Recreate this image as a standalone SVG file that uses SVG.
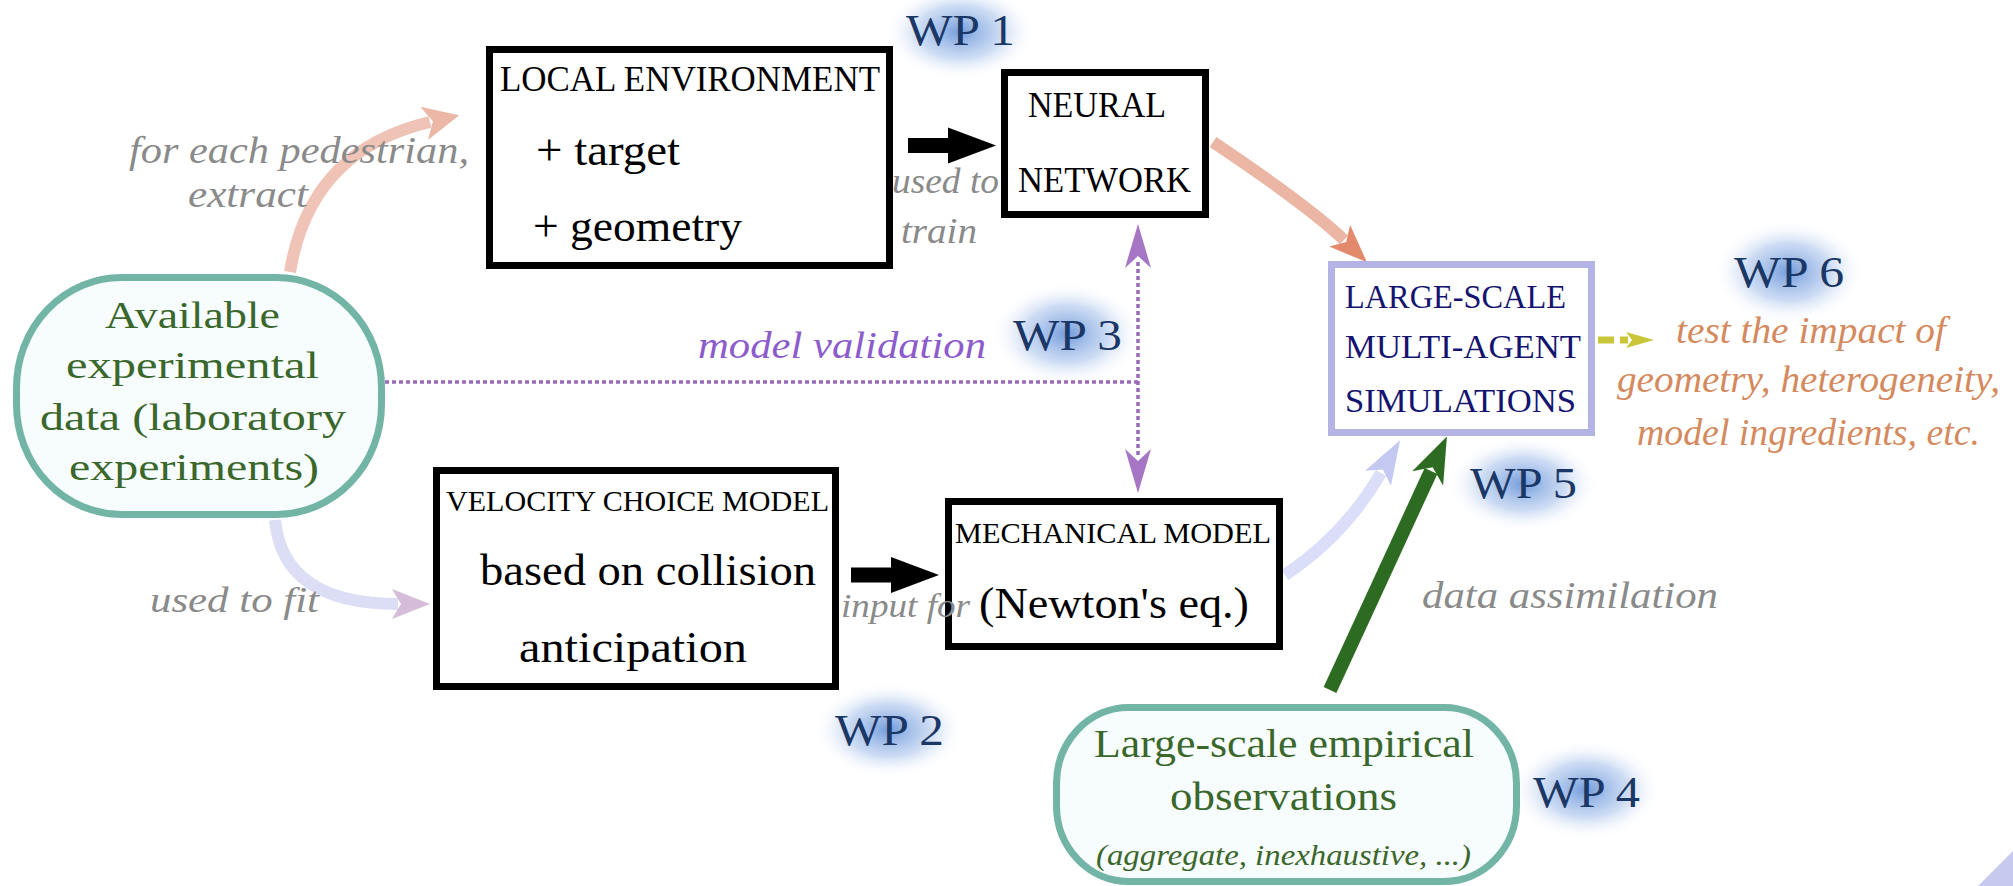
<svg xmlns="http://www.w3.org/2000/svg" width="2013" height="886" viewBox="0 0 2013 886">
  <defs>
    <style>
      text { font-family: "Liberation Serif", "DejaVu Serif", serif; }
      .box { fill: #ffffff; stroke: #000000; stroke-width: 7; }
      .sim { fill: #ffffff; stroke: #b3b3e6; stroke-width: 7; }
      .data { fill: #f7fcfc; stroke: #72b5a7; stroke-width: 7; }
      .blk { fill: #000000; }
      .navy { fill: #141470; }
      .grn { fill: #3a672c; }
      .lbl { fill: #8a8a8a; font-style: italic; }
      .wp { fill: #1b3766; }
      .org { fill: #d48a5e; font-style: italic; }
    </style>
    <radialGradient id="glow">
      <stop offset="0" stop-color="#5a8ad4" stop-opacity="0.85"/>
      <stop offset="0.55" stop-color="#8eb0e6" stop-opacity="0.45"/>
      <stop offset="1" stop-color="#ffffff" stop-opacity="0"/>
    </radialGradient>
    <marker id="hSalmon" markerUnits="userSpaceOnUse" orient="auto" refX="0" refY="0" markerWidth="60" markerHeight="60" overflow="visible">
      <path d="M-6,-15 L32,0 L-6,15 L3,0 Z" fill="#e38a6c"/>
    </marker>
    <marker id="hSalmonLight" markerUnits="userSpaceOnUse" orient="auto" refX="0" refY="0" markerWidth="60" markerHeight="60" overflow="visible">
      <path d="M-6,-17 L30,0 L-6,17 L3,0 Z" fill="#ecb7a6"/>
    </marker>
    <marker id="hLilac" markerUnits="userSpaceOnUse" orient="auto" refX="0" refY="0" markerWidth="60" markerHeight="60" overflow="visible">
      <path d="M-6,-15 L32,0 L-6,15 L3,0 Z" fill="#d5bcd8"/>
    </marker>
    <marker id="hBlue" markerUnits="userSpaceOnUse" orient="auto" refX="0" refY="0" markerWidth="60" markerHeight="60" overflow="visible">
      <path d="M-6,-15 L38,0 L-6,15 L4,0 Z" fill="#c3c9f0"/>
    </marker>
    <marker id="hGreen" markerUnits="userSpaceOnUse" orient="auto" refX="0" refY="0" markerWidth="60" markerHeight="60" overflow="visible">
      <path d="M-8,-17 L38,0 L-8,17 L4,0 Z" fill="#2e6b22"/>
    </marker>
    <marker id="hPurple" markerUnits="userSpaceOnUse" orient="auto-start-reverse" refX="0" refY="0" markerWidth="60" markerHeight="60" overflow="visible">
      <path d="M-6,-13 L38,0 L-6,13 L6,0 Z" fill="#a676c4"/>
    </marker>
    <marker id="hBlack" markerUnits="userSpaceOnUse" orient="auto" refX="0" refY="0" markerWidth="60" markerHeight="60" overflow="visible">
      <path d="M-2,-18 L46,0 L-2,18 Z" fill="#000000"/>
    </marker>
    <marker id="hYellow" markerUnits="userSpaceOnUse" orient="auto" refX="0" refY="0" markerWidth="40" markerHeight="40" overflow="visible">
      <path d="M-2,-8 L26,0 L-2,8 L4,0 Z" fill="#c9c63a"/>
    </marker>
  </defs>

  <rect width="2013" height="886" fill="#ffffff"/>

  <!-- soft highlights behind the work-package labels -->
  <g id="glows">
    <ellipse cx="960" cy="32" rx="76" ry="48" fill="url(#glow)"/>
    <ellipse cx="1067" cy="334" rx="76" ry="52" fill="url(#glow)"/>
    <ellipse cx="889" cy="730" rx="76" ry="48" fill="url(#glow)"/>
    <ellipse cx="1586" cy="790" rx="76" ry="50" fill="url(#glow)"/>
    <ellipse cx="1523" cy="484" rx="76" ry="48" fill="url(#glow)"/>
    <ellipse cx="1789" cy="272" rx="76" ry="52" fill="url(#glow)"/>
  </g>

  <!-- connectors -->
  <g id="connectors" fill="none">
    <path d="M290,272 Q310,150 430,122" stroke="#efc4b6" stroke-width="12" marker-end="url(#hSalmonLight)"/>
    <path d="M1213,142 Q1310,207 1344,240" stroke="#ebb6a4" stroke-width="12" marker-end="url(#hSalmon)"/>
    <path d="M275,520 Q283,604 398,604" stroke="#dcdef5" stroke-width="12" marker-end="url(#hLilac)"/>
    <path d="M1285,575 Q1345,535 1381,473" stroke="#dadef8" stroke-width="12" marker-end="url(#hBlue)"/>
    <path d="M1330,690 L1431,471" stroke="#2e6b22" stroke-width="14" marker-end="url(#hGreen)"/>
    <path d="M908,145.5 L950,145.5" stroke="#000000" stroke-width="15" marker-end="url(#hBlack)"/>
    <path d="M851,575 L893,575" stroke="#000000" stroke-width="15" marker-end="url(#hBlack)"/>
    <path d="M385,382 L1138,382" stroke="#9a6bb8" stroke-width="3.5" stroke-dasharray="4 3"/>
    <path d="M1138,262 L1138,455" stroke="#9a6bb8" stroke-width="3.5" stroke-dasharray="4 3" marker-start="url(#hPurple)" marker-end="url(#hPurple)"/>
    <path d="M1598,340 L1628,340" stroke="#c9c63a" stroke-width="7" stroke-dasharray="16 6" marker-end="url(#hYellow)"/>
  </g>

  <!-- work-package tags -->
  <g id="wp-tags" font-size="44">
    <text class="wp" x="906" y="45" textLength="109" lengthAdjust="spacingAndGlyphs">WP 1</text>
    <text class="wp" x="1013" y="350" textLength="109" lengthAdjust="spacingAndGlyphs">WP 3</text>
    <text class="wp" x="835" y="745" textLength="109" lengthAdjust="spacingAndGlyphs">WP 2</text>
    <text class="wp" x="1533" y="807" textLength="107" lengthAdjust="spacingAndGlyphs">WP 4</text>
    <text class="wp" x="1470" y="498" textLength="107" lengthAdjust="spacingAndGlyphs">WP 5</text>
    <text class="wp" x="1734" y="287" textLength="110" lengthAdjust="spacingAndGlyphs">WP 6</text>
  </g>

  <g id="node-local-environment">
    <rect class="box" x="489.5" y="49.5" width="400" height="216"/>
    <text class="blk" x="500" y="91" font-size="36" textLength="380" lengthAdjust="spacingAndGlyphs">LOCAL ENVIRONMENT</text>
    <text class="blk" x="536" y="165" font-size="44" textLength="144" lengthAdjust="spacingAndGlyphs">+ target</text>
    <text class="blk" x="533" y="241" font-size="44" textLength="209" lengthAdjust="spacingAndGlyphs">+ geometry</text>
  </g>

  <g id="node-neural-network">
    <rect class="box" x="1004.5" y="72.5" width="201" height="142"/>
    <text class="blk" x="1028" y="117" font-size="36" textLength="138" lengthAdjust="spacingAndGlyphs">NEURAL</text>
    <text class="blk" x="1018" y="192" font-size="36" textLength="173" lengthAdjust="spacingAndGlyphs">NETWORK</text>
  </g>

  <g id="node-simulations">
    <rect class="sim" x="1331.5" y="264.5" width="260" height="168"/>
    <text class="navy" x="1345" y="308" font-size="33" textLength="221" lengthAdjust="spacingAndGlyphs">LARGE-SCALE</text>
    <text class="navy" x="1345" y="358" font-size="33" textLength="236" lengthAdjust="spacingAndGlyphs">MULTI-AGENT</text>
    <text class="navy" x="1345" y="412" font-size="33" textLength="231" lengthAdjust="spacingAndGlyphs">SIMULATIONS</text>
  </g>

  <g id="node-experimental-data">
    <rect class="data" x="16.5" y="277.5" width="365" height="237" rx="105" ry="110"/>
    <text class="grn" x="105" y="328" font-size="38" textLength="175" lengthAdjust="spacingAndGlyphs">Available</text>
    <text class="grn" x="66" y="378" font-size="38" textLength="253" lengthAdjust="spacingAndGlyphs">experimental</text>
    <text class="grn" x="40" y="430" font-size="38" textLength="306" lengthAdjust="spacingAndGlyphs">data (laboratory</text>
    <text class="grn" x="69" y="480" font-size="38" textLength="250" lengthAdjust="spacingAndGlyphs">experiments)</text>
  </g>

  <g id="node-velocity-choice">
    <rect class="box" x="436.5" y="470.5" width="399" height="216"/>
    <text class="blk" x="446" y="511" font-size="30" textLength="383" lengthAdjust="spacingAndGlyphs">VELOCITY CHOICE MODEL</text>
    <text class="blk" x="480" y="585" font-size="44" textLength="336" lengthAdjust="spacingAndGlyphs">based on collision</text>
    <text class="blk" x="519" y="662" font-size="44" textLength="228" lengthAdjust="spacingAndGlyphs">anticipation</text>
  </g>

  <g id="node-mechanical-model">
    <rect class="box" x="948.5" y="501.5" width="331" height="145"/>
    <text class="blk" x="955" y="543" font-size="30" textLength="316" lengthAdjust="spacingAndGlyphs">MECHANICAL MODEL</text>
    <text class="blk" x="979" y="618" font-size="44" textLength="270" lengthAdjust="spacingAndGlyphs">(Newton's eq.)</text>
  </g>

  <g id="node-empirical-observations">
    <rect class="data" x="1056.5" y="707.5" width="460" height="174" rx="72" ry="76"/>
    <text class="grn" x="1094" y="757" font-size="40" textLength="380" lengthAdjust="spacingAndGlyphs">Large-scale empirical</text>
    <text class="grn" x="1170" y="810" font-size="40" textLength="227" lengthAdjust="spacingAndGlyphs">observations</text>
    <text class="grn" x="1096" y="865" font-size="30" font-style="italic" textLength="375" lengthAdjust="spacingAndGlyphs">(aggregate, inexhaustive, ...)</text>
  </g>

  <!-- connector labels, drawn last so they sit over box borders -->
  <g id="labels">
    <text class="lbl" x="129" y="163" font-size="38" textLength="340" lengthAdjust="spacingAndGlyphs">for each pedestrian,</text>
    <text class="lbl" x="188" y="207" font-size="38" textLength="120" lengthAdjust="spacingAndGlyphs">extract</text>
    <text class="lbl" x="892" y="193" font-size="36" textLength="107" lengthAdjust="spacingAndGlyphs">used to</text>
    <text class="lbl" x="901" y="243" font-size="36" textLength="76" lengthAdjust="spacingAndGlyphs">train</text>
    <text x="698" y="358" font-size="38" font-style="italic" fill="#8c5ccc" textLength="288" lengthAdjust="spacingAndGlyphs">model validation</text>
    <text class="lbl" x="150" y="612" font-size="36" textLength="169" lengthAdjust="spacingAndGlyphs">used to fit</text>
    <text class="lbl" x="841" y="617" font-size="34" textLength="129" lengthAdjust="spacingAndGlyphs">input for</text>
    <text class="lbl" x="1422" y="608" font-size="38" textLength="296" lengthAdjust="spacingAndGlyphs">data assimilation</text>
    <text class="org" x="1676" y="343" font-size="38" textLength="270" lengthAdjust="spacingAndGlyphs">test the impact of</text>
    <text class="org" x="1617" y="392" font-size="38" textLength="383" lengthAdjust="spacingAndGlyphs">geometry, heterogeneity,</text>
    <text class="org" x="1637" y="445" font-size="38" textLength="343" lengthAdjust="spacingAndGlyphs">model ingredients, etc.</text>
  </g>

  <!-- corner wedge -->
  <polygon points="1978,886 2013,851 2013,886" fill="#c6caee"/>
</svg>
